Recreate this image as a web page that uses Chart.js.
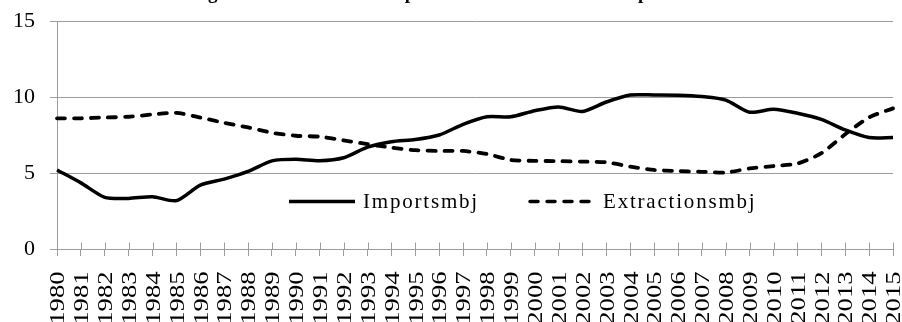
<!DOCTYPE html>
<html>
<head>
<meta charset="utf-8">
<script src="https://cdn.jsdelivr.net/npm/chart.js@4/dist/chart.umd.min.js"></script>
<style>
  html, body { margin: 0; padding: 0; background: #fff; }
  #wrap { width: 902px; height: 322px; position: relative; }
</style>
</head>
<body>
<div id="wrap"><canvas id="chart"></canvas></div>
<script>
// values (million barrels a day)
const years = [
    '1980', '1981', '1982', '1983', '1984', '1985', '1986', '1987', '1988', '1989',
    '1990', '1991', '1992', '1993', '1994', '1995', '1996', '1997', '1998', '1999',
    '2000', '2001', '2002', '2003', '2004', '2005', '2006', '2007', '2008', '2009',
    '2010', '2011', '2012', '2013', '2014', '2015',
];
const importsMbj = [
    5.2, 4.35, 3.4, 3.33, 3.44, 3.18, 4.2, 4.6, 5.1, 5.8,
    5.9, 5.8, 6.0, 6.7, 7.06, 7.2, 7.5, 8.2, 8.7, 8.7,
    9.1, 9.35, 9.05, 9.67, 10.13, 10.13, 10.12, 10.03, 9.8, 9.0,
    9.19, 8.93, 8.53, 7.83, 7.33, 7.33,
];
const extractionsMbj = [
    8.6, 8.6, 8.65, 8.7, 8.85, 8.95, 8.65, 8.3, 8.0, 7.65,
    7.45, 7.39, 7.15, 6.9, 6.67, 6.5, 6.45, 6.45, 6.25, 5.86,
    5.8, 5.78, 5.75, 5.7, 5.42, 5.2, 5.13, 5.08, 5.03, 5.3,
    5.46, 5.62, 6.3, 7.55, 8.66, 9.25,
];
const yTicks = [0, 5, 10, 15];
const seriesLabels = ['Importsmbj', 'Extractionsmbj'];
const titleText = 'Figure 4. Evolution des importations et des extractions pétrolières US';

const GRID = '#9c9c9c';
const SERIF = '"Liberation Serif", "Times New Roman", serif';

// title sits above the picture, only its bottom shows
const titlePlugin = {
    id: 'cutTitle',
    afterDraw(chart) {
        const ctx = chart.ctx;
        ctx.save();
        ctx.font = 'bold 19px ' + SERIF;
        ctx.fillStyle = '#000';
        ctx.textAlign = 'center';
        ctx.textBaseline = 'alphabetic';
        ctx.fillText(titleText, 472, -1.5);
        ctx.restore();
    },
};

// excel style cross ticks on the category axis + stretched year labels
const xAxisPlugin = {
    id: 'yearAxis',
    beforeDatasetsDraw(chart) {
        const ctx = chart.ctx;
        const xs = chart.scales.x;
        const bottom = chart.chartArea.bottom;
        ctx.save();
        ctx.strokeStyle = GRID;
        ctx.lineWidth = 1;
        ctx.beginPath();
        years.forEach((y, i) => {
            const px = Math.round(xs.getPixelForValue(i)) + 0.5;
            ctx.moveTo(px, bottom - 6.5);
            ctx.lineTo(px, bottom);
        });
        ctx.stroke();
        ctx.restore();
    },
    afterDraw(chart) {
        const ctx = chart.ctx;
        const xs = chart.scales.x;
        const top = chart.chartArea.bottom + 22.5;
        ctx.save();
        ctx.font = '20px ' + SERIF;
        ctx.fillStyle = '#000';
        ctx.textAlign = 'right';
        ctx.textBaseline = 'middle';
        years.forEach((y, i) => {
            const px = xs.getPixelForValue(i) + 2;
            ctx.save();
            ctx.translate(px, top);
            ctx.rotate(-Math.PI / 2);
            ctx.scale(1.33, 1);
            ctx.fillText(y, 0, 0);
            ctx.restore();
        });
        ctx.restore();
    },
};

// legend drawn inside the plot area
const legendPlugin = {
    id: 'innerLegend',
    afterDatasetsDraw(chart) {
        const ctx = chart.ctx;
        const ly = 201.5;
        const items = [
            { x0: 289, x1: 355, tx: 363, dash: [] },
            { x0: 528, x1: 597, tx: 603, dash: [8, 9] },
        ];
        ctx.save();
        items.forEach((it, i) => {
            ctx.strokeStyle = '#000';
            ctx.lineWidth = 3.5;
            ctx.lineCap = it.dash.length ? 'round' : 'butt';
            ctx.setLineDash(it.dash);
            ctx.beginPath();
            ctx.moveTo(it.x0 + (it.dash.length ? 2 : 0), ly);
            ctx.lineTo(it.x1, ly);
            ctx.stroke();
            ctx.setLineDash([]);
            ctx.font = '21px ' + SERIF;
            ctx.letterSpacing = '1.8px';
            ctx.fillStyle = '#000';
            ctx.textAlign = 'left';
            ctx.textBaseline = 'middle';
            ctx.fillText(seriesLabels[i], it.tx, ly + 1);
        });
        ctx.restore();
    },
};

const config = {
    type: 'line',
    data: {
        labels: years,
        datasets: [
            {
                label: seriesLabels[0],
                data: importsMbj,
                borderColor: '#000',
                borderWidth: 3.5,
                pointRadius: 0,
                tension: 0.25,
                fill: false,
            },
            {
                label: seriesLabels[1],
                data: extractionsMbj,
                borderColor: '#000',
                borderWidth: 3.8,
                borderDash: [8, 9],
                borderCapStyle: 'round',
                pointRadius: 0,
                tension: 0.25,
                fill: false,
            },
        ],
    },
    options: {
        responsive: true,
        maintainAspectRatio: false,
        animation: false,
        layout: {
            padding: { left: 0, right: 9, top: 21, bottom: 0 },
        },
        plugins: {
            legend: { display: false },
            tooltip: { enabled: false },
            title: { display: false },
        },
        scales: {
            x: {
                type: 'category',
                offset: false,
                grid: {
                    display: true,
                    drawOnChartArea: false,
                    drawTicks: true,
                    tickLength: 7,
                    color: GRID,
                },
                border: { display: true, color: GRID, width: 1 },
                ticks: { display: false, autoSkip: false },
                afterFit(scale) {
                    scale.height = 73;
                    scale.paddingLeft = 0;
                    scale.paddingRight = 0;
                },
            },
            y: {
                min: 0,
                max: 15,
                afterBuildTicks(scale) {
                    scale.ticks = yTicks.map((v) => ({ value: v }));
                },
                grid: {
                    color: GRID,
                    lineWidth: 1,
                    tickLength: 7,
                },
                border: { display: true, color: GRID, width: 1 },
                ticks: {
                    color: '#000',
                    font: { family: SERIF, size: 22 },
                    padding: 15,
                },
                afterFit(scale) {
                    scale.width = 57;
                    scale.paddingTop = 0;
                    scale.paddingBottom = 0;
                },
            },
        },
    },
    plugins: [xAxisPlugin, legendPlugin, titlePlugin],
};

new Chart(document.getElementById('chart'), config);
</script>
</body>
</html>
